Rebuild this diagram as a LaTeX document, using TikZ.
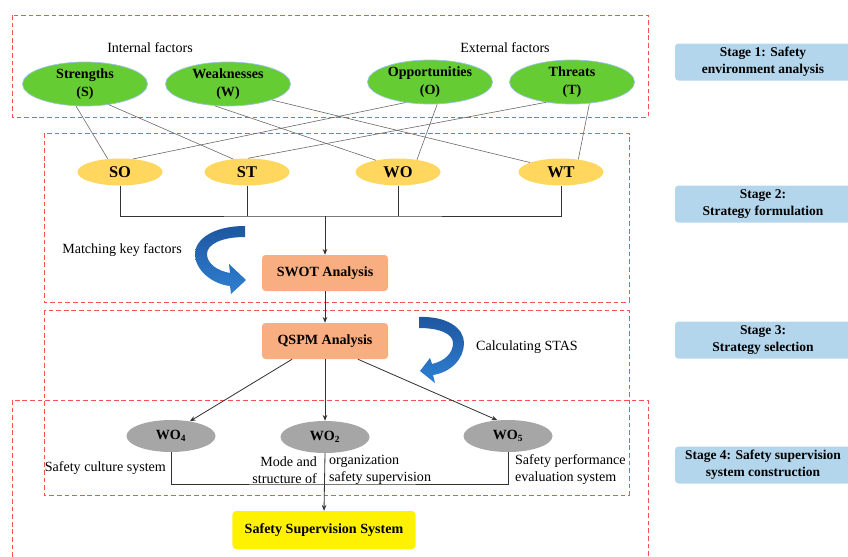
\documentclass[tikz,border=0pt]{standalone}
\usepackage{fontspec}
\setmainfont{Liberation Serif}[BoldFont={Liberation Serif Bold}]
\usepackage{tikz}
\usetikzlibrary{arrows.meta, shapes.geometric}
\usepackage{xcolor}
\definecolor{stagered}{HTML}{FF5050}
\definecolor{factgreen}{HTML}{66CC33}
\definecolor{factedge}{HTML}{9DC3E6}
\definecolor{pairyellow}{HTML}{FFD75E}
\definecolor{toolorange}{HTML}{F8AE80}
\definecolor{choicegray}{HTML}{A6A6A6}
\definecolor{stageblue}{HTML}{B3D6EC}
\definecolor{arrowdark}{HTML}{1E56A0}
\definecolor{arrowlight}{HTML}{2F7FD2}

\begin{document}
\begin{tikzpicture}[x=0.03cm, y=-0.03cm, >={Stealth[length=5pt,width=4pt]},
  factor/.style={ellipse, draw=factedge, line width=0.6pt, fill=factgreen,
    minimum width=3.75cm, minimum height=1.32cm, inner sep=0pt, align=center,
    font=\bfseries\fontsize{12}{15}\selectfont},
  pair/.style={ellipse, fill=pairyellow, minimum width=2.55cm, minimum height=0.81cm,
    inner sep=0pt, font=\bfseries\fontsize{14}{16}\selectfont},
  choice/.style={ellipse, fill=choicegray, minimum width=2.67cm, minimum height=0.96cm,
    inner sep=0pt, font=\bfseries\fontsize{12}{14}\selectfont},
  toolbox/.style={rectangle, rounded corners=3pt, fill=toolorange, minimum width=3.78cm,
    minimum height=1.08cm, inner sep=0pt, font=\bfseries\fontsize{12}{14}\selectfont},
  stagebox/.style={rectangle, rounded corners=3pt, fill=stageblue, minimum width=5.28cm,
    minimum height=1.11cm, inner sep=0pt, align=center,
    font=\bfseries\fontsize{11.5}{14.5}\selectfont},
  stageframe/.style={draw=stagered, line width=0.8pt, dash pattern=on 4pt off 2.5pt},
  tie/.style={draw=black!60, line width=0.5pt},
  conn/.style={draw=black!80, line width=0.7pt},
  note/.style={font=\fontsize{12}{14.5}\selectfont}]
  \useasboundingbox (0,0) rectangle (848,556);

  \draw[stageframe] (12,15) rectangle (648,117);
  \draw[stageframe] (44,133) rectangle (629,302);
  \draw[stageframe] (44,310) rectangle (629,495);
  \draw[stageframe] (12,400) rectangle (648,575);

  \node[note] (internal) at (150,48) {Internal factors};
  \node[note] (external) at (505,48) {External factors};
  \node[factor] (S) at (85,84) {Strengths\\(S)};
  \node[factor] (W) at (228,84) {Weaknesses\\(W)};
  \node[factor] (O) at (430,82) {Opportunities\\(O)};
  \node[factor] (T) at (572,82) {Threats\\(T)};

  \node[pair] (SO) at (120,172) {SO};
  \node[pair] (ST) at (247,172) {ST};
  \node[pair] (WO) at (398,172) {WO};
  \node[pair] (WT) at (561,172) {WT};

  \draw[tie] (S.248) -- (SO.133);
  \draw[tie] (S.319) -- (ST.137);
  \draw[tie] (W.239) -- (WO.152);
  \draw[tie] (W.340) -- (WT.163);
  \draw[tie] (O.220) -- (SO.45);
  \draw[tie] (O.288) -- (WO.33);
  \draw[tie] (T.218) -- (ST.86);
  \draw[tie] (T.309) -- (WT.36);

  \node[toolbox] (SWOT) at (325,273) {SWOT Analysis};
  \node[toolbox] (QSPM) at (325,341) {QSPM Analysis};
  \coordinate (bus) at (325,216);
  \draw[conn] (SO.south) |- (bus) -| (WT.south);
  \draw[conn] (ST.south) -- (ST.south |- bus);
  \draw[conn] (WO.south) -- (WO.south |- bus);
  \draw[conn,->] (bus) -- (SWOT.north);
  \draw[conn,->] (SWOT.south) -- (QSPM.north);

  \node[note] (matching) at (122,250) {Matching key factors};
  \shade[top color=arrowdark, bottom color=arrowlight]
    (245,226) .. controls (212,226) and (195,240) .. (195,254)
    .. controls (195,270) and (212,284) .. (230,286) -- (231,294) -- (246,280)
    -- (229,264) -- (230,273) .. controls (218,271) and (207,264) .. (207,254)
    .. controls (207,244) and (222,237) .. (245,237) -- cycle;

  \node[note] (calc) at (527,347) {Calculating STAS};
  \shade[top color=arrowdark, bottom color=arrowlight]
    (419,317) .. controls (447,316) and (464,328) .. (464,343)
    .. controls (464,358) and (452,372) .. (433,375) -- (435,383) -- (420,371)
    -- (430,358) -- (432,364) .. controls (445,361) and (453,353) .. (453,343)
    .. controls (453,334) and (440,328) .. (419,328) -- cycle;

  \node[choice] (WO4) at (171,436) {WO\textsubscript{4}};
  \node[choice] (WO2) at (325,437) {WO\textsubscript{2}};
  \node[choice] (WO5) at (508,436) {WO\textsubscript{5}};
  \draw[conn,->] (QSPM.209) -- (WO4.38);
  \draw[conn,->] (QSPM.south) -- (WO2.north);
  \draw[conn,->] (QSPM.331) -- (WO5.124);

  \node[note, anchor=east] (culture) at (170,468) {Safety culture system};
  \node[note, anchor=east, align=right] (mode) at (321,470) {Mode and\\structure of};
  \node[note, anchor=west, align=left] (organ) at (325,470) {organization\\safety supervision};
  \node[note, anchor=west, align=left] (perform) at (511,470) {Safety performance\\evaluation system};

  \node[rectangle, rounded corners=3pt, fill=yellow, minimum width=5.49cm, minimum height=1.14cm,
    inner sep=0pt, font=\bfseries\fontsize{12}{14}\selectfont] (SSS) at (324,530) {Safety Supervision System};
  \coordinate (base) at (325,484);
  \draw[conn] (WO4.south) |- (base) -| (WO5.south);
  \draw[conn,->] (WO2.south) -- (SSS.north);

  \node[stagebox] (stage1) at (763,62) {Stage 1: Safety\\environment analysis};
  \node[stagebox] (stage2) at (763,204) {Stage 2:\\Strategy formulation};
  \node[stagebox] (stage3) at (763,340) {Stage 3:\\Strategy selection};
  \node[stagebox] (stage4) at (763,465) {Stage 4: Safety supervision\\system construction};
\end{tikzpicture}
\end{document}
